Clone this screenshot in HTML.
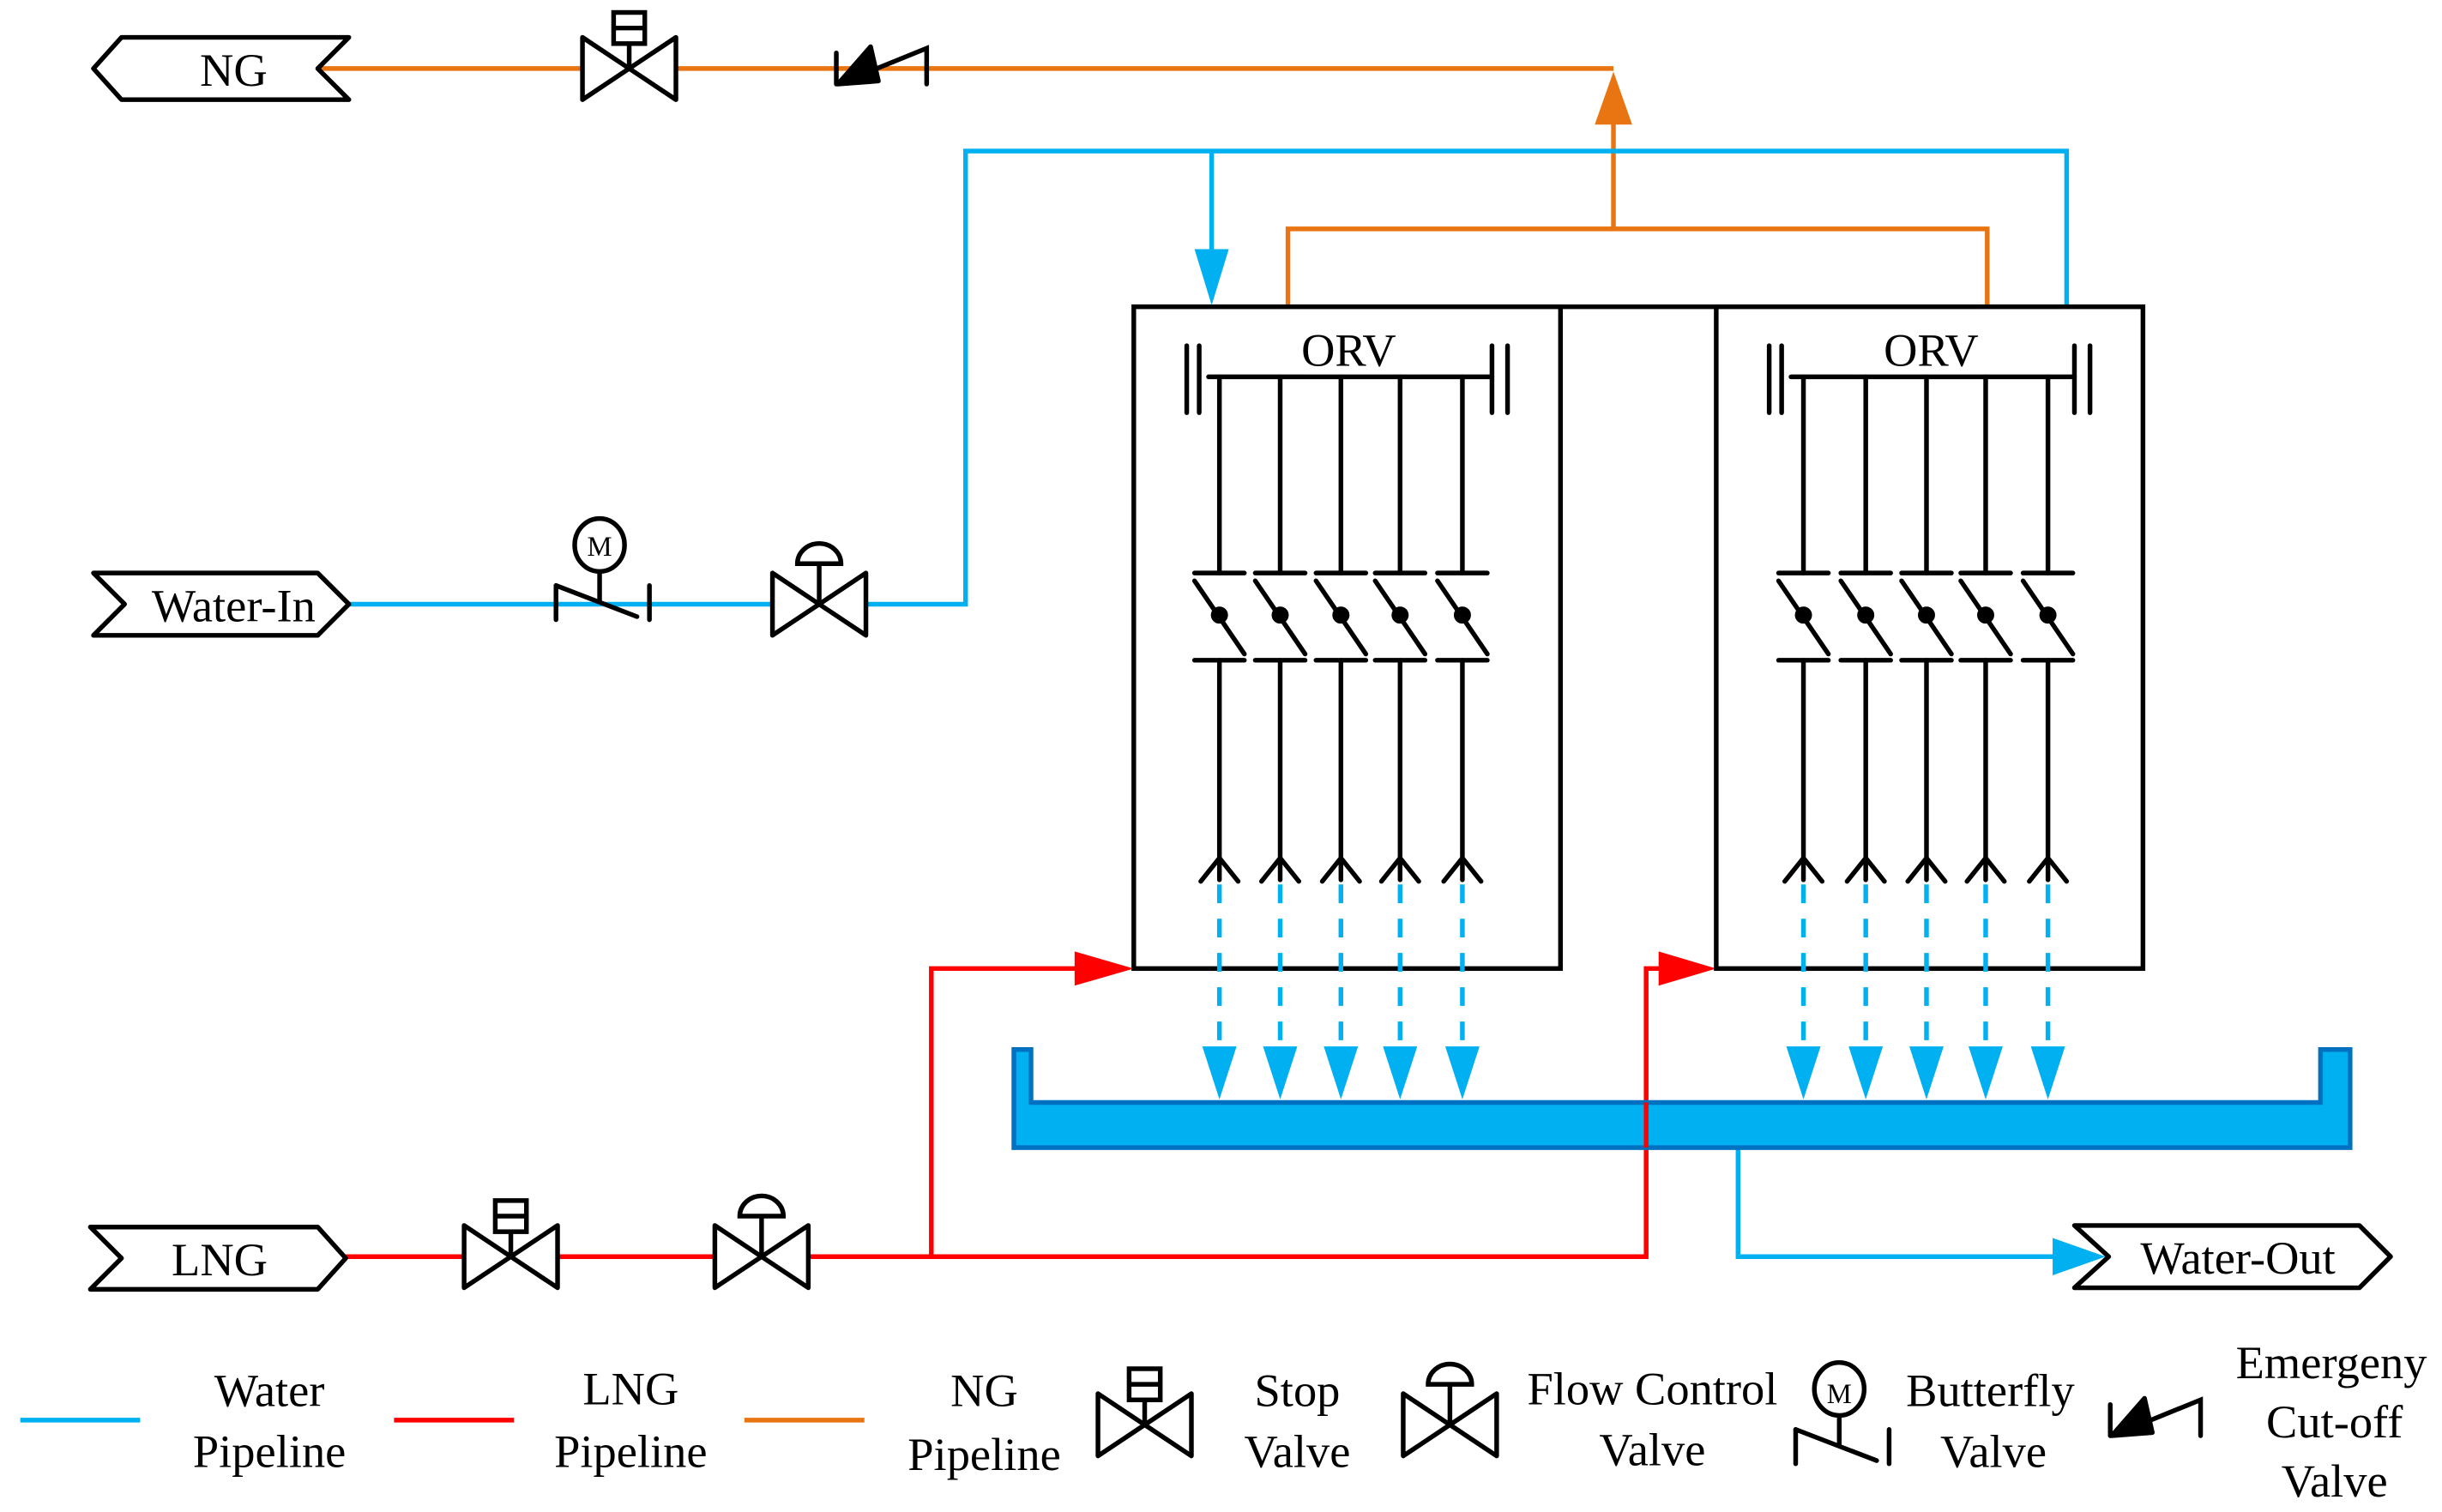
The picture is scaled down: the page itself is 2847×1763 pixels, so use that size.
<!DOCTYPE html>
<html><head><meta charset="utf-8"><style>html,body{margin:0;padding:0;background:#fff}svg{display:block}text{font-family:"Liberation Serif",serif;fill:#000}</style></head>
<body>
<svg width="2847" height="1763" viewBox="0 0 1568 971" xmlns="http://www.w3.org/2000/svg">
<defs>
<g id="tube" stroke="#000" stroke-width="3" fill="none" stroke-linecap="round">
  <line x1="0" y1="242" x2="0" y2="368"/>
  <line x1="-16" y1="368" x2="16" y2="368"/>
  <line x1="-16" y1="373" x2="16" y2="420"/>
  <circle cx="0" cy="395" r="4" fill="#000"/>
  <line x1="-16" y1="424" x2="16" y2="424"/>
  <line x1="0" y1="424" x2="0" y2="565"/>
  <polyline points="-12,566 0,551 12,566"/>
  <line x1="0" y1="568" x2="0" y2="680" stroke="#00b0f0" stroke-dasharray="12,10" stroke-linecap="butt"/>
  <polygon points="-11,672 11,672 0,706" fill="#00b0f0" stroke="none"/>
</g>
<g id="orv">
  <rect x="0" y="0" width="274" height="425" fill="none" stroke="#000" stroke-width="3"/>
  <g stroke="#000" stroke-width="3" stroke-linecap="round">
    <line x1="48" y1="45" x2="230" y2="45"/>
    <line x1="34" y1="25" x2="34" y2="68"/><line x1="42" y1="25" x2="42" y2="68"/>
    <line x1="230" y1="25" x2="230" y2="68"/><line x1="240" y1="25" x2="240" y2="68"/>
  </g>
  <text x="138" y="38" font-size="30" text-anchor="middle">ORV</text>
</g>
<g id="bow" stroke="#000" stroke-width="3" fill="#fff" stroke-linejoin="round">
  <polygon points="-30,-20 -30,20 0,0"/><polygon points="30,-20 30,20 0,0"/>
</g>
<g id="stopv" stroke="#000" stroke-width="3" fill="#fff">
  <line x1="0" y1="0" x2="0" y2="-16"/>
  <rect x="-10" y="-36" width="20" height="20"/><line x1="-10" y1="-26" x2="10" y2="-26"/>
  <use href="#bow"/>
</g>
<g id="flowv" stroke="#000" stroke-width="3" fill="#fff">
  <line x1="0" y1="0" x2="0" y2="-26"/>
  <path d="M-14,-26 A14,13 0 0 1 14,-26 Z" fill="#fff"/>
  <use href="#bow"/>
</g>
<g id="bfly" stroke="#000" stroke-width="3" fill="none" stroke-linecap="round">
  <line x1="-28" y1="-12" x2="-28" y2="10"/><line x1="-28" y1="-12" x2="24" y2="8"/>
  <line x1="32" y1="-12" x2="32" y2="10"/>
  <line x1="0" y1="-2" x2="0" y2="-22"/>
  <ellipse cx="0" cy="-38" rx="16" ry="17" fill="#fff"/>
</g>
<g id="emg" stroke="#000" stroke-width="3" fill="none" stroke-linecap="round">
  <line x1="-30" y1="-10" x2="-30" y2="10"/>
  <polygon points="-29,10 -8,-14 -3,8" fill="#000" stroke-linejoin="round"/>
  <polyline points="-4,0 28,-13 28,10"/>
</g>
</defs>

<g fill="none" stroke-width="3">
  <polyline points="200,44 1036,44" stroke="#e87511"/>
  <polyline points="1036,78 1036,147" stroke="#e87511"/>
  <polyline points="827,197 827,147 1276,147 1276,197" stroke="#e87511"/>
  <polyline points="224,388 620,388 620,97 1327,97 1327,197" stroke="#00b0f0"/>
  <polyline points="778,97 778,165" stroke="#00b0f0"/>
  <polyline points="1116,737 1116,807 1325,807" stroke="#00b0f0"/>
  <polyline points="222,807 1057,807 1057,622 1068,622" stroke="#f00"/>
  <polyline points="598,807 598,622 695,622" stroke="#f00"/>
</g>
<polygon points="1024,80 1048,80 1036,46" fill="#e87511"/>
<polygon points="767,160 789,160 778,196" fill="#00b0f0"/>
<polygon points="690,611 690,633 728,622" fill="#f00"/>
<polygon points="1065,611 1065,633 1102,622" fill="#f00"/>
<polygon points="1318,795 1318,819 1352,807" fill="#00b0f0"/>

<use href="#orv" x="728" y="197"/>
<use href="#orv" x="1102" y="197"/>
<line x1="1002" y1="197" x2="1102" y2="197" stroke="#000" stroke-width="3"/>
<use href="#tube" x="783"/><use href="#tube" x="822"/><use href="#tube" x="861"/><use href="#tube" x="899"/><use href="#tube" x="939"/>
<use href="#tube" x="1158"/><use href="#tube" x="1198"/><use href="#tube" x="1237"/><use href="#tube" x="1275"/><use href="#tube" x="1315"/>

<path d="M651,674 L662,674 L662,708 L1490,708 L1490,674 L1509,674 L1509,737 L651,737 Z" fill="#00b0f0" stroke="#0070c0" stroke-width="3"/>
<line x1="1057" y1="737" x2="1057" y2="708" stroke="#f00" stroke-width="3"/>

<g fill="#fff" stroke="#000" stroke-width="3" stroke-linejoin="round">
  <polygon points="60,44 78,24 224,24 204,44 224,64 78,64"/>
  <polygon points="60,368 204,368 224,388 204,408 60,408 80,388"/>
  <polygon points="58,788 204,788 222,808 204,828 58,828 78,808"/>
  <polygon points="1332,787 1515,787 1535,807 1515,827 1332,827 1354,807"/>
</g>
<text x="150" y="55" font-size="30" text-anchor="middle">NG</text>
<text x="150" y="399" font-size="30" text-anchor="middle">Water-In</text>
<text x="141" y="819" font-size="30" text-anchor="middle">LNG</text>
<text x="1437" y="818" font-size="30" text-anchor="middle">Water-Out</text>

<use href="#stopv" x="404" y="44"/>
<use href="#emg" x="567" y="44"/>
<use href="#bfly" x="385" y="388"/>
<text x="385" y="357" font-size="18" text-anchor="middle">M</text>
<use href="#flowv" x="526" y="388"/>
<use href="#stopv" x="328" y="807"/>
<use href="#flowv" x="489" y="807"/>

<g stroke-width="3">
  <line x1="13" y1="912" x2="90" y2="912" stroke="#00b0f0"/>
  <line x1="253" y1="912" x2="330" y2="912" stroke="#f00"/>
  <line x1="478" y1="912" x2="555" y2="912" stroke="#e87511"/>
</g>
<g font-size="30" text-anchor="middle">
  <text x="173" y="903">Water</text><text x="173" y="942">Pipeline</text>
  <text x="405" y="902">LNG</text><text x="405" y="942">Pipeline</text>
  <text x="632" y="903">NG</text><text x="632" y="944">Pipeline</text>
  <text x="833" y="903">Stop</text><text x="833" y="942">Valve</text>
  <text x="1061" y="902">Flow Control</text><text x="1061" y="941">Valve</text>
  <text x="1278" y="903">Butterfly</text><text x="1280" y="942">Valve</text>
  <text x="1497" y="885">Emergeny</text><text x="1499" y="923">Cut-off</text><text x="1499" y="961">Valve</text>
</g>
<use href="#stopv" x="735" y="915"/>
<use href="#flowv" x="931" y="915"/>
<use href="#bfly" x="1181" y="930"/>
<text x="1181" y="901" font-size="18" text-anchor="middle">M</text>
<use href="#emg" x="1385" y="912"/>
</svg>
</body></html>
